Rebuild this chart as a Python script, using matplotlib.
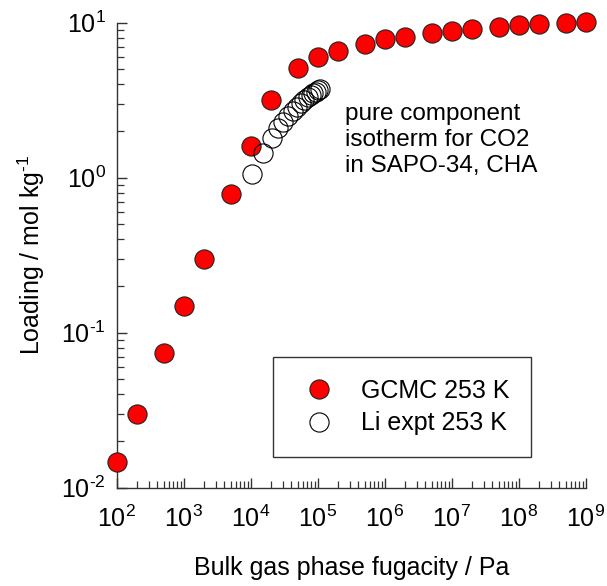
import numpy as np
import matplotlib
matplotlib.use('Agg')
import matplotlib.pyplot as plt
import matplotlib.ticker as ticker

plt.rcParams['font.family'] = ['Liberation Sans', 'DejaVu Sans']
plt.rcParams['mathtext.default'] = 'regular'

# --- dati: GCMC 253 K (simulazione) ---
f_gcmc = [1e2, 2e2, 5e2, 1e3, 2e3, 5e3, 1e4, 2e4, 5e4, 1e5, 2e5, 5e5,
          1e6, 2e6, 5e6, 1e7, 2e7, 5e7, 1e8, 2e8, 5e8, 1e9]
q_gcmc = [0.0147, 0.0299, 0.074, 0.149, 0.299, 0.785, 1.60, 3.17, 5.13, 6.04, 6.6, 7.29,
          7.82, 8.12, 8.55, 8.88, 9.1, 9.42, 9.67, 9.81, 10.0, 10.06]

# --- dati: Li expt 253 K ---
f_expt = [1.03e4, 1.54e4, 2.06e4, 2.58e4, 3.07e4, 3.64e4, 4.24e4, 4.86e4,
          5.57e4, 6.31e4, 7.1e4, 7.87e4, 8.6e4, 9.4e4, 1.02e5, 1.08e5]
q_expt = [1.057, 1.44, 1.81, 2.08, 2.30, 2.51, 2.69, 2.87,
          3.02, 3.17, 3.30, 3.42, 3.51, 3.59, 3.70, 3.75]

HY = '\u2010'  # trattino invece del segno meno di mathtext


def pow10(v, pos):
    e = int(round(np.log10(v)))
    s = str(e).replace('-', HY)
    return '10$^{' + s + '}$'


fig = plt.figure(figsize=(6.07, 5.86), dpi=100)
ax = fig.add_axes([0.1923, 0.1677, 0.9649 - 0.1923, 0.9613 - 0.1677])

ax.plot(f_gcmc, q_gcmc, 'o', ms=13.8, mfc='red', mec='#222222', mew=0.8,
        label='GCMC 253 K', zorder=3, clip_on=False)
ax.plot(f_expt, q_expt, 'o', ms=13.8, mfc='none', mec='black', mew=0.8,
        label='Li expt 253 K', zorder=4, clip_on=False)

ax.set_xscale('log')
ax.set_yscale('log')
ax.set_xlim(1e2, 1e9)
ax.set_ylim(1e-2, 1e1)

ax.xaxis.set_major_locator(ticker.LogLocator(base=10, numticks=20))
ax.xaxis.set_minor_locator(ticker.LogLocator(base=10, subs=np.arange(2, 10), numticks=20))
ax.yaxis.set_major_locator(ticker.LogLocator(base=10, numticks=20))
ax.yaxis.set_minor_locator(ticker.LogLocator(base=10, subs=np.arange(2, 10), numticks=20))
ax.xaxis.set_major_formatter(ticker.FuncFormatter(pow10))
ax.yaxis.set_major_formatter(ticker.FuncFormatter(pow10))
ax.xaxis.set_minor_formatter(ticker.NullFormatter())
ax.yaxis.set_minor_formatter(ticker.NullFormatter())

for s in ['top', 'right']:
    ax.spines[s].set_visible(False)
for s in ['left', 'bottom']:
    ax.spines[s].set_linewidth(1.0)
    ax.spines[s].set_color('#333333')

ax.tick_params(which='major', direction='in', length=7.2, width=1.0, color='#333333', labelsize=18)
ax.tick_params(which='minor', direction='in', length=5.2, width=0.9, color='#333333')
ax.tick_params(axis='x', which='major', pad=13)
ax.tick_params(axis='y', which='major', pad=8)

ax.set_xlabel('Bulk gas phase fugacity / Pa', fontsize=18, labelpad=17)
ax.set_ylabel('Loading / mol kg$^{' + HY + '1}$', fontsize=18, labelpad=10)

ax.text(0.4868, 0.748, 'pure component\nisotherm for CO2\nin SAPO-34, CHA',
        transform=ax.transAxes, fontsize=17.5, ha='left', va='center', linespacing=1.22)

leg = ax.legend(loc='upper left', bbox_to_anchor=(272.7 / 607, 1 - 357.3 / 586),
                bbox_transform=fig.transFigure, fontsize=18, frameon=True, fancybox=False,
                borderpad=0.85, handlelength=2.0, handletextpad=0.7, labelspacing=0.35,
                borderaxespad=0)
leg.get_frame().set_edgecolor('black')
leg.get_frame().set_linewidth(1.0)
leg.legend_handles[1].set_markerfacecolor('white')

fig.savefig('out.png', dpi=100)
